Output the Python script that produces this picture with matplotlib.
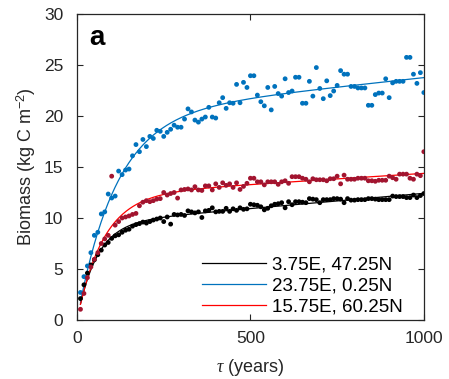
import numpy as np
import matplotlib
matplotlib.use("Agg")
import matplotlib.pyplot as plt

plt.rcParams['font.family'] = ['Liberation Sans', 'DejaVu Sans']
plt.rcParams['mathtext.fontset'] = 'custom'
plt.rcParams['mathtext.rm'] = 'Liberation Sans'
plt.rcParams['mathtext.it'] = 'Liberation Serif:italic'

# years of the simulation output (every 10 years)
years = np.arange(10, 1001, 10)

# 3.75E, 47.25N
black_biomass = [
    2.1, 3.45, 4.6, 5.4, 5.9, 6.4, 6.85, 7.35, 7.6, 8.0,
    8.25, 8.35, 8.6, 8.8, 8.9, 9.2, 9.35, 9.45, 9.6, 9.5,
    9.65, 9.8, 9.9, 10.0, 9.65, 10.1, 9.4, 10.35, 10.3, 10.35,
    10.25, 10.7, 10.6, 10.5, 10.6, 10.05, 10.7, 10.75, 11.0, 10.6,
    10.65, 10.65, 10.95, 10.65, 10.9, 10.75, 11.0, 10.85, 10.9, 11.35,
    11.3, 11.25, 11.1, 10.8, 10.95, 11.2, 11.35, 11.4, 11.5, 11.0,
    11.6, 11.3, 11.6, 11.6, 11.55, 11.5, 11.9, 11.85, 11.8, 11.5,
    11.8, 11.8, 11.8, 11.9, 11.9, 11.85, 11.5, 11.9, 11.75, 11.75,
    11.8, 11.8, 11.8, 11.9, 11.9, 11.85, 11.8, 11.8, 11.8, 11.8,
    12.15, 12.1, 12.1, 12.1, 12.0, 12.0, 12.25, 12.0, 12.2, 12.4,
]

# 23.75E, 0.25N
blue_biomass = [
    2.7, 4.25, 5.3, 6.6, 8.3, 8.6, 10.4, 10.6, 12.35, 11.96,
    12.15, 14.6, 14.25, 14.7, 14.8, 16.1, 17.2, 16.5, 17.7, 17.0,
    18.0, 17.8, 18.6, 18.5, 18.0, 18.4, 18.7, 19.1, 18.9, 18.9,
    19.7, 20.7, 20.4, 19.6, 19.4, 19.7, 19.9, 20.85, 19.9, 19.8,
    21.3, 21.8, 20.75, 21.3, 21.25, 23.1, 21.3, 23.3, 22.8, 23.95,
    23.95, 22.05, 21.4, 21.0, 22.8, 20.6, 22.9, 22.2, 21.95, 23.65,
    22.3, 22.45, 23.8, 23.8, 21.25, 21.25, 23.4, 21.95, 24.75, 22.7,
    21.7, 23.45, 22.0, 22.45, 23.0, 24.45, 24.1, 24.1, 22.9, 22.9,
    22.75, 22.75, 22.75, 21.05, 21.05, 22.1, 22.25, 22.25, 23.65, 21.8,
    23.25, 23.4, 23.4, 23.4, 25.75, 25.75, 24.1, 23.2, 24.25, 22.3,
]

# 15.75E, 60.25N
red_biomass = [
    1.05, 2.6, 4.15, 5.2, 5.95, 6.6, 7.5, 7.95, 8.3, 14.1,
    9.3, 9.65, 10.0, 10.1, 10.2, 10.35, 10.45, 11.2, 11.55, 11.7,
    11.6, 11.7, 11.85, 11.9, 12.5, 12.25, 12.4, 12.5, 11.95, 12.75,
    12.8, 12.85, 12.75, 13.07, 12.75, 12.7, 13.15, 13.15, 12.75, 13.35,
    13.0, 13.45, 13.2, 13.35, 13.0, 13.45, 12.8, 13.1, 13.4, 13.9,
    13.9, 13.55, 13.55, 13.25, 13.55, 13.55, 13.55, 13.3, 13.55, 13.65,
    13.4, 14.05, 14.05, 14.05, 13.9, 13.8, 13.55, 13.85, 13.75, 13.75,
    13.75, 13.65, 13.85, 13.85, 14.1, 13.35, 14.2, 13.8, 13.8, 13.8,
    13.9, 13.9, 13.9, 13.65, 13.65, 13.6, 13.7, 13.7, 13.7, 14.1,
    13.95, 13.8, 14.3, 14.3, 14.3, 13.9, 13.8, 14.3, 14.15, 16.5,
]

labels = ['3.75E, 47.25N', '23.75E, 0.25N', '15.75E, 60.25N']
point_colors = ['black', '#0072BD', '#A2142F']
line_colors = ['black', '#0072BD', 'red']


def fit_curve(t, y, t_new):
    """
    Least squares fit of y = A*(1 - exp(-t/tau)) + c*t, scanning tau
    """
    best = None
    for tau in np.linspace(20, 500, 481):
        X = np.column_stack([1 - np.exp(-t / tau), t])
        coef = np.linalg.lstsq(X, y, rcond=None)[0]
        err = np.sum((X @ coef - y) ** 2)
        if best is None or err < best[0]:
            best = (err, tau, coef)
    _, tau, coef = best
    return coef[0] * (1 - np.exp(-t_new / tau)) + coef[1] * t_new


fig = plt.figure(figsize=(4.49, 3.79), dpi=100)
ax = fig.add_axes([0.1715, 0.1557, 0.7725, 0.8073])

t_fine = np.linspace(years[0], years[-1], 400)
series = [black_biomass, blue_biomass, red_biomass]
for y, pc, lc, lab in zip(series, point_colors, line_colors, labels):
    y = np.array(y)
    ax.scatter(years, y, s=12, color=pc, edgecolors='none', zorder=3)
    ax.plot(t_fine, fit_curve(years.astype(float), y, t_fine), color=lc, lw=0.9, label=lab, zorder=2)

ax.set_xlim(0, 1000)
ax.set_ylim(0, 30)
ax.set_xticks([0, 500, 1000])
ax.set_yticks(np.arange(0, 31, 5))
ax.tick_params(direction='in', top=True, right=True, labelsize=12.5, colors='#262626', length=4, width=0.8)
ax.tick_params(axis='y', pad=10)
ax.tick_params(axis='x', pad=8)
for s in ax.spines.values():
    s.set_color('#262626')
    s.set_linewidth(0.9)

ax.set_xlabel(r'$\tau$ (years)', fontsize=13, color='#262626', labelpad=8)
ax.set_ylabel(r'Biomass (kg C m$^{\mathregular{-2}}$)', fontsize=13, color='#262626', labelpad=4)
ax.text(0.035, 0.965, 'a', transform=ax.transAxes, fontsize=20, fontweight='bold', va='top', ha='left')

ax.legend(loc='lower right', bbox_to_anchor=(0.94, 0.015), frameon=False, fontsize=13.5,
          handlelength=3.4, handletextpad=0.35, labelspacing=0.2, borderpad=0, borderaxespad=0)

fig.savefig('out.png', dpi=100)
